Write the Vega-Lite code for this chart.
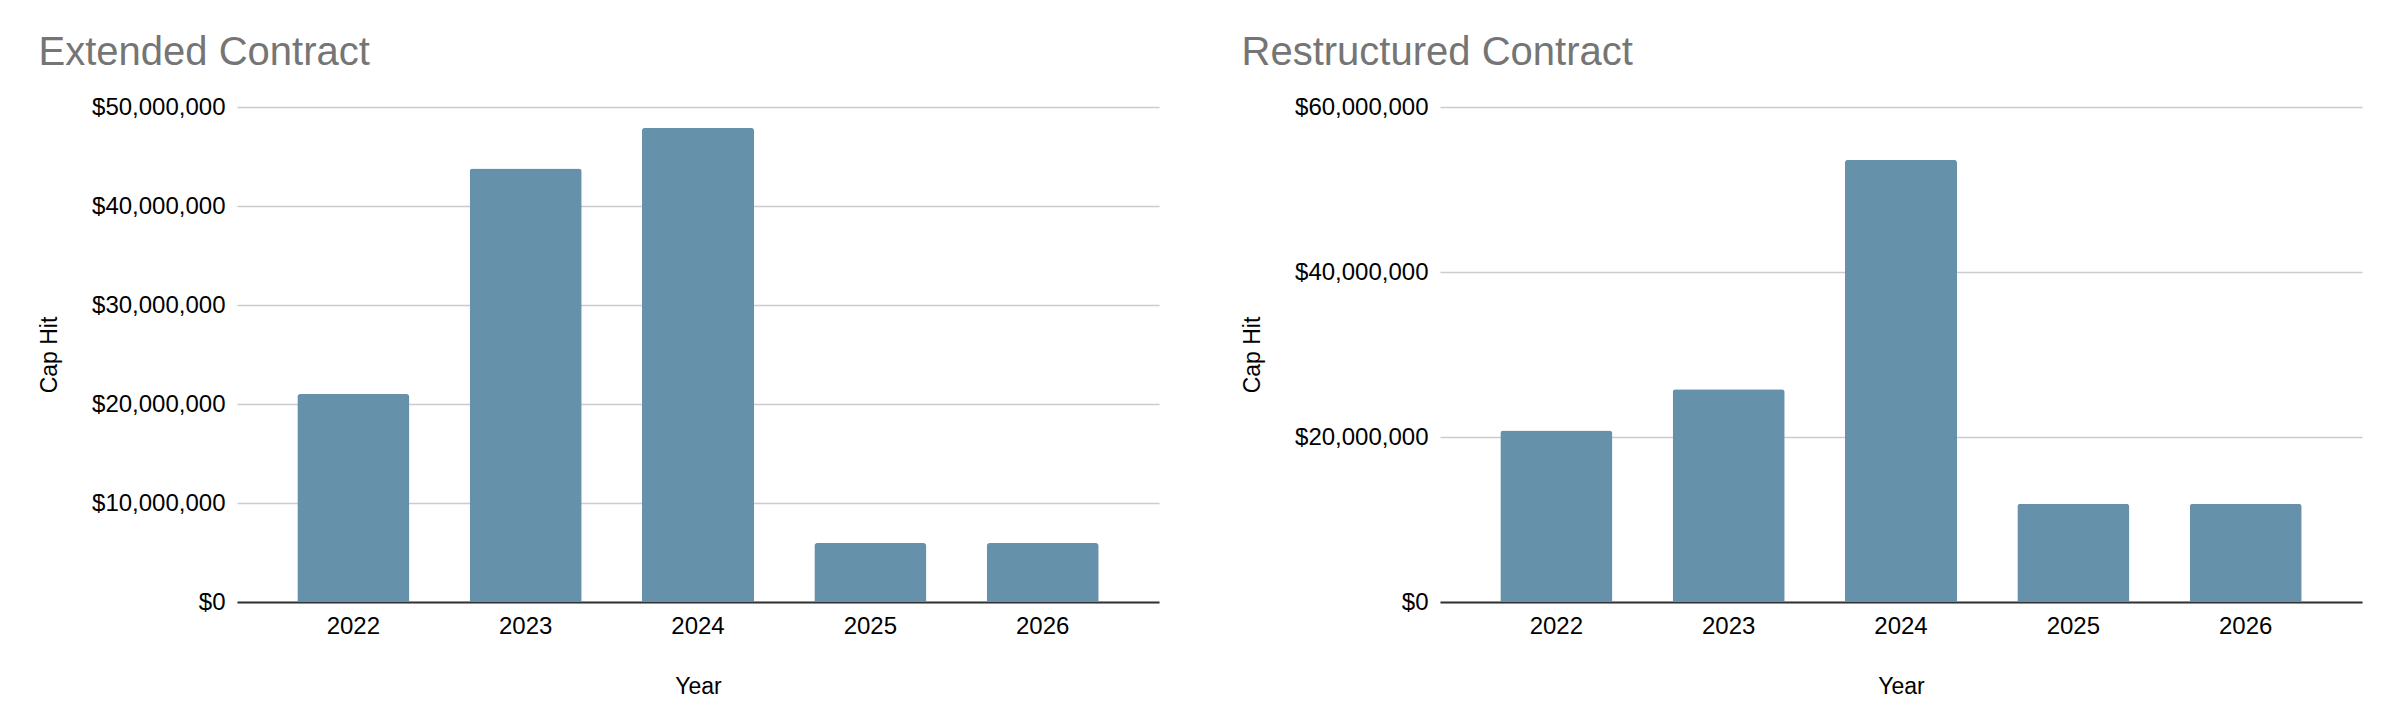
{
  "$schema": "https://vega.github.io/schema/vega-lite/v6.json",
  "padding": {"left": 38, "top": 33, "right": 5, "bottom": 5},
  "background": "white",
  "spacing": 82,
  "config": {
    "font": "Liberation Sans",
    "view": {"stroke": null},
    "title": {"font": "Liberation Sans", "fontSize": 40, "fontWeight": "normal", "color": "#757575", "anchor": "start", "frame": "bounds", "offset": 22},
    "axis": {"labelFont": "Liberation Sans", "titleFont": "Liberation Sans", "labelColor": "#000000", "titleColor": "#000000", "titleFontWeight": "normal", "ticks": false}
  },
  "datasets": {
    "extended": [
      {"Year": "2022", "CapHit": 21000000},
      {"Year": "2023", "CapHit": 43800000},
      {"Year": "2024", "CapHit": 47900000},
      {"Year": "2025", "CapHit": 5950000},
      {"Year": "2026", "CapHit": 5950000}
    ],
    "restructured": [
      {"Year": "2022", "CapHit": 20800000},
      {"Year": "2023", "CapHit": 25800000},
      {"Year": "2024", "CapHit": 53600000},
      {"Year": "2025", "CapHit": 11900000},
      {"Year": "2026", "CapHit": 11900000}
    ]
  },
  "hconcat": [
    {
      "title": "Extended Contract",
      "width": 922,
      "height": 495,
      "data": {"name": "extended"},
      "mark": {"type": "bar", "color": "#6591aa", "cornerRadiusTopLeft": 3, "cornerRadiusTopRight": 3},
      "encoding": {
        "x": {"field": "Year", "type": "ordinal", "scale": {"padding": 0.35},
          "axis": {"title": "Year", "labelAngle": 0, "labelFontSize": 24, "titleFontSize": 23, "labelPadding": 12, "titlePadding": 37, "domainColor": "#333333", "domainWidth": 2, "grid": false}},
        "y": {"field": "CapHit", "type": "quantitative", "scale": {"domain": [0, 50000000]},
          "axis": {"title": "Cap Hit", "values": [0, 10000000, 20000000, 30000000, 40000000, 50000000], "format": "$,.0f", "labelFontSize": 24, "titleFontSize": 23, "labelPadding": 12, "titlePadding": 30, "domain": false, "gridColor": "#cccccc", "gridWidth": 1.3}}
      }
    },
    {
      "title": "Restructured Contract",
      "width": 922,
      "height": 495,
      "data": {"name": "restructured"},
      "mark": {"type": "bar", "color": "#6591aa", "cornerRadiusTopLeft": 3, "cornerRadiusTopRight": 3},
      "encoding": {
        "x": {"field": "Year", "type": "ordinal", "scale": {"padding": 0.35},
          "axis": {"title": "Year", "labelAngle": 0, "labelFontSize": 24, "titleFontSize": 23, "labelPadding": 12, "titlePadding": 37, "domainColor": "#333333", "domainWidth": 2, "grid": false}},
        "y": {"field": "CapHit", "type": "quantitative", "scale": {"domain": [0, 60000000]},
          "axis": {"title": "Cap Hit", "values": [0, 20000000, 40000000, 60000000], "format": "$,.0f", "labelFontSize": 24, "titleFontSize": 23, "labelPadding": 12, "titlePadding": 30, "domain": false, "gridColor": "#cccccc", "gridWidth": 1.3}}
      }
    }
  ]
}
